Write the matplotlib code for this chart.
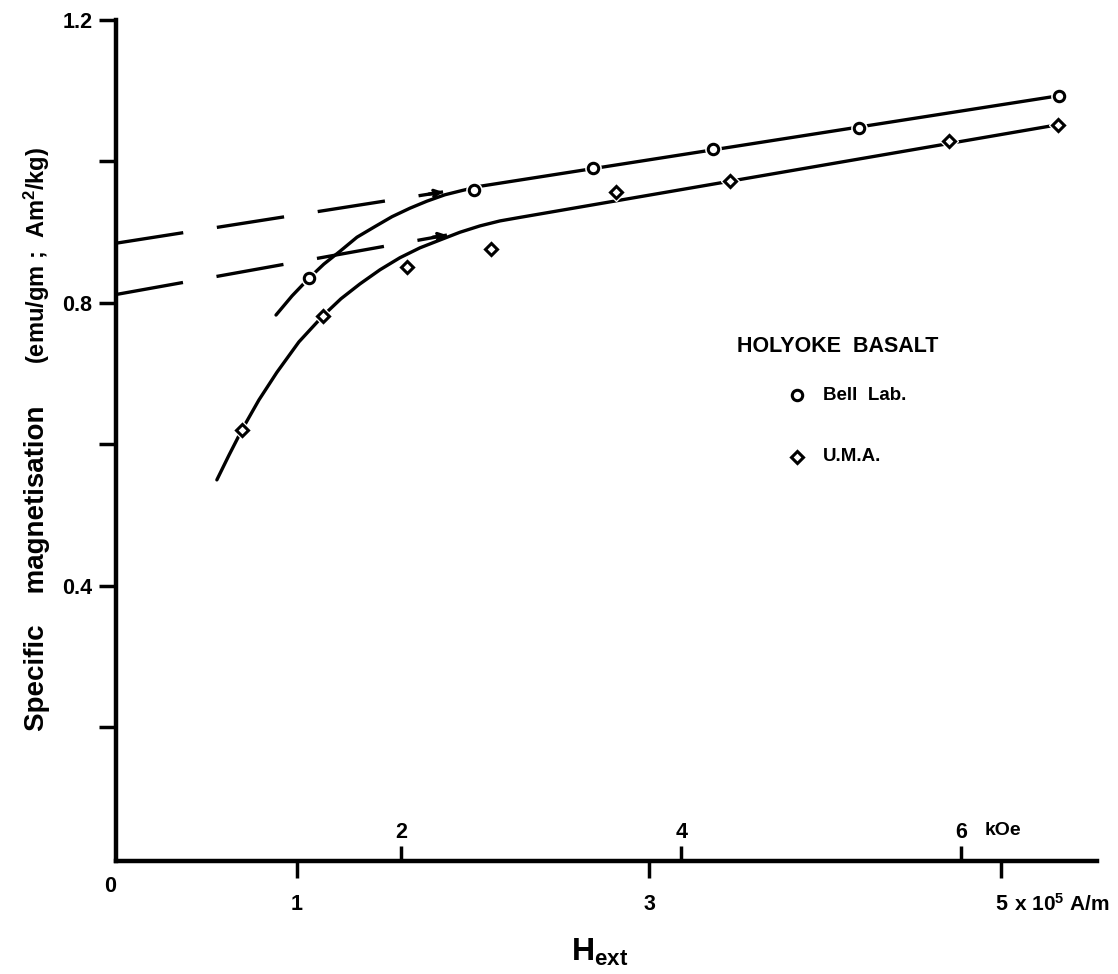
import matplotlib.pyplot as plt
from matplotlib.lines import Line2D

plt.rcParams['font.family'] = 'Liberation Sans'
plt.rcParams['font.weight'] = 'bold'
plt.rcParams['mathtext.fontset'] = 'custom'
plt.rcParams['mathtext.rm'] = 'Liberation Sans:bold'
plt.rcParams['mathtext.it'] = 'Liberation Sans:bold'
plt.rcParams['mathtext.bf'] = 'Liberation Sans:bold'
plt.rcParams['lines.scale_dashes'] = False

# H_ext in 1e5 A/m, specific magnetisation in emu/gm
bell_x = [1.068, 2.006, 2.682, 3.364, 4.193, 5.330]
bell_y = [0.835, 0.960, 0.991, 1.018, 1.048, 1.093]
uma_x = [0.688, 1.148, 1.625, 2.102, 2.813, 3.460, 4.705, 5.324]
uma_y = [0.621, 0.782, 0.851, 0.876, 0.957, 0.972, 1.029, 1.052]

# hand-drawn curves through each data set
bell_fit_x = [0.881, 0.972, 1.068, 1.153, 1.244, 1.341, 1.443, 1.540, 1.642,
              1.739, 1.841, 1.938, 2.040, 5.330]
bell_fit_y = [0.783, 0.810, 0.835, 0.855, 0.873, 0.893, 0.908, 0.922, 0.934,
              0.944, 0.953, 0.959, 0.965, 1.093]
uma_fit_x = [0.545, 0.614, 0.688, 0.784, 0.886, 1.011, 1.148, 1.250, 1.358,
             1.472, 1.585, 1.699, 1.812, 1.926, 2.040, 2.153, 2.267, 5.324]
uma_fit_y = [0.550, 0.585, 0.621, 0.663, 0.702, 0.745, 0.782, 0.806, 0.827,
             0.847, 0.864, 0.878, 0.889, 0.900, 0.909, 0.916, 0.921, 1.052]

# high-field lines extrapolated back to H = 0
bell_ext_x = [-0.028, 1.83]
bell_ext_y = [0.8845, 0.957]
uma_ext_x = [-0.028, 1.852]
uma_ext_y = [0.812, 0.896]

am_ticks = [1, 3, 5]
koe_ticks = [2, 4, 6]
y_ticks = [0.2, 0.4, 0.6, 0.8, 1.0, 1.2]
y_labels = ['', '0.4', '', '0.8', '', '1.2']

KOE = 0.79577  # 1 kOe in 1e5 A/m

W, H = 1118, 974


def fpos(px, py):
    return px / W, 1 - py / H


fig = plt.figure(figsize=(W / 100, H / 100), dpi=100)
ax = fig.add_axes([116 / W, 1 - 861 / H, 981 / W, 841 / H])
ax.set_xlim(-0.028, 5.545)
ax.set_ylim(0.0113, 1.2)

for s in ['top', 'right']:
    ax.spines[s].set_visible(False)
for s in ['left', 'bottom']:
    ax.spines[s].set_linewidth(3.2)

lw = 2.4
ax.plot(bell_fit_x, bell_fit_y, color='k', lw=lw, solid_capstyle='round',
        solid_joinstyle='round', zorder=2)
ax.plot(uma_fit_x, uma_fit_y, color='k', lw=lw, solid_capstyle='round',
        solid_joinstyle='round', zorder=2)

for ex, ey in [(bell_ext_x, bell_ext_y), (uma_ext_x, uma_ext_y)]:
    ax.plot(ex, ey, color='k', lw=lw, linestyle=(0, (49, 24.5)), zorder=2)
    ax.annotate('', xy=(ex[1], ey[1]), xytext=(ex[1] - 0.08, ey[1] - 0.003),
                arrowprops=dict(arrowstyle='->', lw=lw, color='k',
                                mutation_scale=11, shrinkA=0, shrinkB=0))

# white halo so the curves break around the symbols
ax.plot(bell_x, bell_y, 'o', ms=11, mfc='white', mec='white', zorder=3)
ax.plot(uma_x, uma_y, 'D', ms=9, mfc='white', mec='white', zorder=3)
ax.plot(bell_x, bell_y, 'o', ms=7.5, mfc='white', mec='k', mew=2.2, zorder=4)
ax.plot(uma_x, uma_y, 'D', ms=6, mfc='white', mec='k', mew=2.2, zorder=4)

ax.set_yticks(y_ticks)
ax.set_yticklabels(y_labels)
ax.set_xticks(am_ticks)
ax.set_xticklabels([str(t) for t in am_ticks])
ax.tick_params(axis='y', direction='out', length=12, width=2.5, pad=5, labelsize=15.5)
ax.tick_params(axis='x', direction='out', length=12, width=2.5, pad=12, labelsize=15.5)

sec = ax.secondary_xaxis('bottom', functions=(lambda x: x / KOE, lambda k: k * KOE))
sec.set_xticks(koe_ticks)
sec.set_xticklabels([str(t) for t in koe_ticks])
sec.tick_params(direction='in', length=11, width=2.5, pad=-28, labelsize=15.5)
sec.spines['bottom'].set_visible(False)

xt = ax.get_xaxis_transform()
ax.annotate('kOe', xy=(koe_ticks[-1] * KOE, 0), xycoords=xt, xytext=(16.5, 22),
            textcoords='offset points', ha='left', va='center', fontsize=14)
ax.annotate(r'x 10$^{5}$ A/m', xy=(am_ticks[-1], 0), xycoords=xt, xytext=(9, -31),
            textcoords='offset points', ha='left', va='center', fontsize=15)

fig.text(*fpos(110, 887), '0', fontsize=15.5, ha='center', va='center')

fig.text(*fpos(37, 568), 'Specific    magnetisation', rotation=90, fontsize=20,
         ha='center', va='center')
fig.text(*fpos(37, 255), r'(emu/gm ;  Am$^{2}$/kg)', rotation=90, fontsize=17,
         ha='center', va='center')
fig.text(*fpos(600, 952), r'H$_{ext}$', fontsize=23, ha='center', va='center')

# key
fig.text(*fpos(737, 346), 'HOLYOKE  BASALT', fontsize=15.5, ha='left', va='center')
for (mk, ms, label, py) in [('o', 7.5, 'Bell  Lab.', 395), ('D', 6, 'U.M.A.', 457)]:
    fx, fy = fpos(797, py)
    fig.add_artist(Line2D([fx], [fy], marker=mk, ms=ms, mfc='white', mec='k', mew=2.2,
                          transform=fig.transFigure))
    fig.text(*fpos(823, py), label, fontsize=13.5, ha='left', va='center')

fig.savefig('out.png', dpi=100)
